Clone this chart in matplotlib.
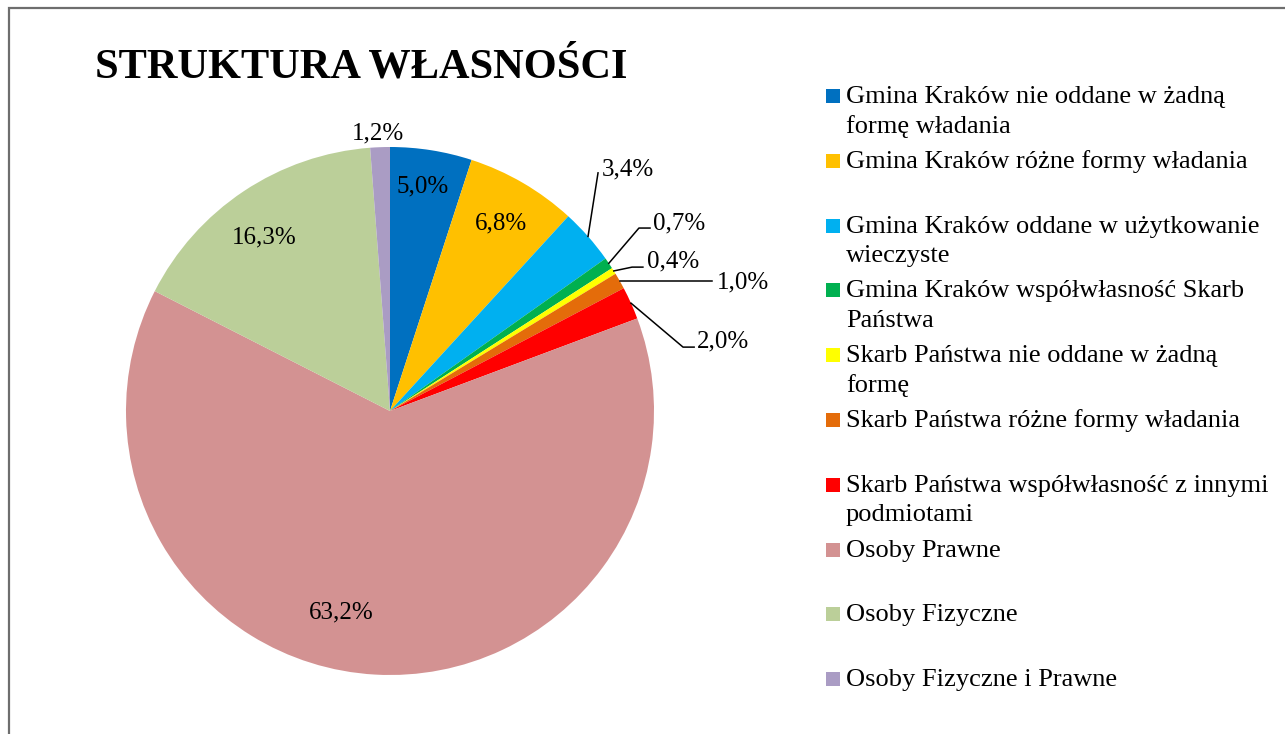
import matplotlib.pyplot as plt
from matplotlib.patches import Rectangle
import numpy as np

# Data
categories = [
    "Gmina Kraków nie oddane w żadną\nformę władania",
    "Gmina Kraków różne formy władania",
    "Gmina Kraków oddane w użytkowanie\nwieczyste",
    "Gmina Kraków współwłasność Skarb\nPaństwa",
    "Skarb Państwa nie oddane w żadną\nformę",
    "Skarb Państwa różne formy władania",
    "Skarb Państwa współwłasność z innymi\npodmiotami",
    "Osoby Prawne",
    "Osoby Fizyczne",
    "Osoby Fizyczne i Prawne",
]
shares = [5.0, 6.8, 3.4, 0.7, 0.4, 1.0, 2.0, 63.2, 16.3, 1.2]
colors = ["#0070C0", "#FFC000", "#00B0F0", "#00B050", "#FFFF00",
          "#E46C0A", "#FF0000", "#D39292", "#BBCF99", "#AA9CC4"]

plt.rcParams['font.family'] = ['Liberation Serif', 'DejaVu Serif']

W, H = 1285, 734
fig = plt.figure(figsize=(W / 100, H / 100), dpi=100)

# overlay in pixel coordinates for frame, title and legend
over = fig.add_axes([0, 0, 1, 1])
over.set_xlim(0, W)
over.set_ylim(H, 0)
over.axis('off')
over.plot([9, 9, W], [H, 8, 8], color="#6E6E6E", lw=1.6, solid_joinstyle='miter')
over.text(95, 77, "STRUKTURA WŁASNOŚCI", fontsize=30.5, fontweight='bold',
          ha='left', va='baseline')

# pie: centre (390, 411) px, radius 264 px
cx, cy, r = 390, 411, 264
ax = fig.add_axes([(cx - r) / W, (H - cy - r) / H, 2 * r / W, 2 * r / H])
wedges, _ = ax.pie(shares, colors=colors, startangle=90, counterclock=False,
                   wedgeprops=dict(linewidth=0))
ax.set_xlim(-1, 1)
ax.set_ylim(-1, 1)
ax.set_aspect('equal')

def fmt(v):
    return f"{v:.1f}".replace('.', ',') + '%'

# label placement (data units of the pie, radius = 1)
inside_pos = {0: (0.125, 0.826), 1: (0.421, 0.689), 7: (-0.184, -0.784),
              8: (-0.477, 0.636), 9: (-0.045, 1.027)}
outside_pos = {
    2: ((0.803, 0.894), [(0.788, 0.902)]),
    3: ((0.998, 0.686), [(0.943, 0.693), (0.985, 0.693)]),
    4: ((0.973, 0.542), [(0.917, 0.545), (0.958, 0.545)]),
    5: ((1.239, 0.466), [(1.22, None)]),
    6: ((1.163, 0.242), [(1.11, 0.242), (1.152, 0.242)]),
}

for i, (w, v) in enumerate(zip(wedges, shares)):
    if i in inside_pos:
        x, y = inside_pos[i]
        ax.text(x, y, fmt(v), fontsize=18, ha='center', va='baseline')
    else:
        (tx, ty), pts = outside_pos[i]
        mid = np.deg2rad((w.theta1 + w.theta2) / 2)
        x0, y0 = np.cos(mid), np.sin(mid)
        xs = [x0] + [p[0] for p in pts]
        ys = [y0] + [y0 if p[1] is None else p[1] for p in pts]
        ax.plot(xs, ys, color='black', lw=1.1, clip_on=False)
        ax.text(tx, ty, fmt(v), fontsize=18, ha='left', va='baseline')

# legend
for i, (name, col) in enumerate(zip(categories, colors)):
    base = 103 + 64.8 * i
    over.add_patch(Rectangle((826, base - 14), 14, 14, color=col, lw=0))
    for k, line in enumerate(name.split('\n')):
        over.text(846, base + 29.5 * k, line, fontsize=19, ha='left', va='baseline')

fig.savefig("out.png", dpi=100)
